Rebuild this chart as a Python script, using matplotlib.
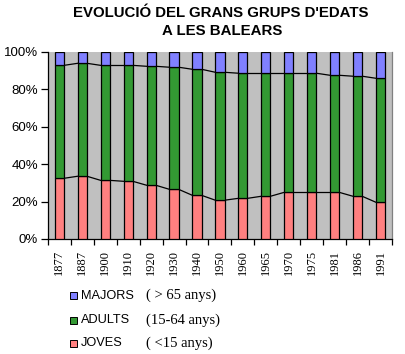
import matplotlib
matplotlib.use('Agg')
import matplotlib.pyplot as plt
import numpy as np
from matplotlib.patches import Rectangle

years = ['1877', '1887', '1900', '1910', '1920', '1930', '1940', '1950',
         '1960', '1965', '1970', '1975', '1981', '1986', '1991']
# percentages
joves = [32.4, 33.5, 31.3, 30.8, 28.7, 26.5, 23.3, 20.7,
         21.7, 22.8, 24.9, 24.9, 24.9, 22.8, 19.6]
adults_top = [92.7, 93.8, 92.7, 92.7, 92.2, 91.7, 90.6, 89.0,
              88.5, 88.5, 88.5, 88.5, 87.4, 86.9, 85.8]
adults = [a - j for a, j in zip(adults_top, joves)]
majors = [100 - a for a in adults_top]

c_maj = '#8080ff'
c_adu = '#339933'
c_jov = '#ff8080'

fig = plt.figure(figsize=(4.06, 3.54), dpi=100)
ax = fig.add_axes([0.118, 0.3249, 0.8475, 0.5291])
ax.set_facecolor('#c0c0c0')

x = np.arange(len(years))
w = 0.4
ax.bar(x, joves, w, color=c_jov, edgecolor='black', linewidth=0.9, zorder=3)
ax.bar(x, adults, w, bottom=joves, color=c_adu, edgecolor='black', linewidth=0.9, zorder=3)
ax.bar(x, majors, w, bottom=adults_top, color=c_maj, edgecolor='black', linewidth=0.9, zorder=3)

# series lines between bars
for ser in (joves, adults_top):
    for i in range(len(years) - 1):
        ax.plot([x[i] + w / 2, x[i + 1] - w / 2], [ser[i], ser[i + 1]],
                color='black', linewidth=0.9, zorder=2)

ax.set_xlim(-0.5, len(years) - 0.5)
ax.set_ylim(0, 100)
ax.set_yticks([0, 20, 40, 60, 80, 100])
ax.set_yticklabels(['0%', '20%', '40%', '60%', '80%', '100%'],
                   fontfamily='Liberation Sans', fontsize=9.5)
ax.set_xticks(np.arange(-0.5, len(years), 1.0))
ax.set_xticklabels([])
ax.set_xticks(x, minor=True)
ax.set_xticklabels(years, minor=True, rotation=90, fontfamily='Liberation Serif', fontsize=9)
ax.tick_params(axis='x', which='minor', length=0, pad=8)
ax.tick_params(axis='x', which='major', length=4, width=0.9, direction='out')
ax.tick_params(axis='y', length=5, width=0.9, direction='out', pad=2)

ax.spines['right'].set_color('#808080')
ax.spines['right'].set_linewidth(0.9)
ax.spines['top'].set_visible(False)
ax.spines['left'].set_linewidth(0.9)
ax.spines['bottom'].set_linewidth(0.9)

fig.text(0.543, 0.963, "EVOLUCIÓ DEL GRANS GRUPS D'EDATS", ha='center', va='center',
         fontfamily='Liberation Sans', fontweight='bold', fontsize=10.8)
fig.text(0.548, 0.913, "A LES BALEARS", ha='center', va='center',
         fontfamily='Liberation Sans', fontweight='bold', fontsize=10.8)

# legend
leg = [('MAJORS', '( > 65 anys)', c_maj),
       ('ADULTS', '(15-64 anys)', c_adu),
       ('JOVES', '( <15 anys)', c_jov)]
rows_y = [295.7, 320, 343]
for (name, rng, col), yy in zip(leg, rows_y):
    fy = 1 - yy / 354
    fig.patches.append(Rectangle((70 / 406, fy - 3.5 / 354), 7 / 406, 7 / 354,
                                 transform=fig.transFigure, facecolor=col,
                                 edgecolor='black', linewidth=0.7))
    fig.text(81 / 406, fy, name, ha='left', va='center',
             fontfamily='Liberation Sans', fontsize=9.2)
    fig.text(146 / 406, fy, rng, ha='left', va='center',
             fontfamily='Liberation Serif', fontsize=10.5)

fig.savefig('out.png', dpi=100)
